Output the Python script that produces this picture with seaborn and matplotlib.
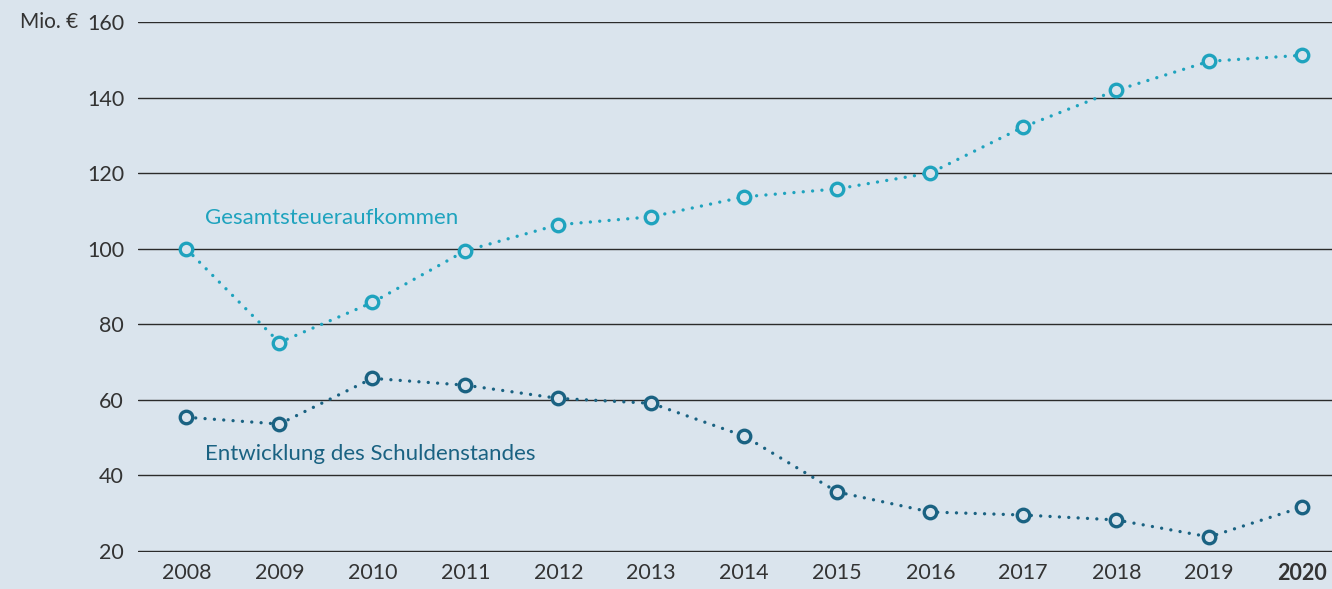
import matplotlib.pyplot as plt
import pandas as pd
import seaborn as sns

# values (Mio. EUR)
years = [2008, 2009, 2010, 2011, 2012, 2013, 2014, 2015, 2016, 2017, 2018, 2019, 2020]
steuer = [100.0, 75.2, 85.8, 99.5, 106.4, 108.5, 113.8, 115.9, 120.1, 132.3, 142.0, 149.7, 151.3]
schulden = [55.4, 53.6, 65.7, 63.9, 60.4, 59.1, 50.4, 35.6, 30.3, 29.5, 28.2, 23.7, 31.6]
y_ticks = [20, 40, 60, 80, 100, 120, 140, 160]

bg = "#dae4ed"
light = "#1fa3be"
dark = "#1a6282"
text_col = "#333333"

df = pd.DataFrame({"Jahr": years, "Steuer": steuer, "Schulden": schulden})

sns.set_theme(style="white")
plt.rcParams["font.family"] = ["Lato", "DejaVu Sans"]

fig = plt.figure(figsize=(13.32, 5.89), dpi=100, facecolor=bg)
ax = fig.add_axes([0.1036, 0.0628, 0.8964, 0.8998])
ax.set_facecolor(bg)

for col, color in [("Steuer", light), ("Schulden", dark)]:
    sns.lineplot(
        data=df, x="Jahr", y=col, ax=ax, color=color,
        linewidth=2.4, marker="o", markersize=9, markerfacecolor=bg,
        markeredgecolor=color, markeredgewidth=2.4, zorder=3,
    )
    line = ax.get_lines()[-1]
    line.set_dashes((0.01, 2.8))
    line.set_dash_capstyle("round")

ax.set_xlim(2007.48, 2020.32)
ax.set_ylim(19.7, 160.1)
ax.set_yticks(y_ticks)
ax.set_xticks(years)
ax.set_xticklabels([str(y) for y in years])
ax.get_xticklabels()[-1].set_fontweight("bold")
ax.grid(axis="y", color="#2b2b2b", linewidth=1.0)
ax.set_axisbelow(True)
for s in ax.spines.values():
    s.set_visible(False)
ax.tick_params(axis="both", length=0, labelsize=15.5, labelcolor=text_col)
ax.tick_params(axis="y", pad=10)
ax.tick_params(axis="x", pad=8)
ax.set_xlabel("")
ax.set_ylabel("")

fig.text(20 / 1332, 1 - 22 / 589, "Mio. €", fontsize=15, color=text_col,
         ha="left", va="center")
ax.text(2008.2, 108.2, "Gesamtsteueraufkommen", fontsize=16, color=light,
        ha="left", va="center")
ax.text(2008.2, 45.6, "Entwicklung des Schuldenstandes", fontsize=16,
        color=dark, ha="left", va="center")

fig.savefig("out.png", dpi=100, facecolor=bg)
